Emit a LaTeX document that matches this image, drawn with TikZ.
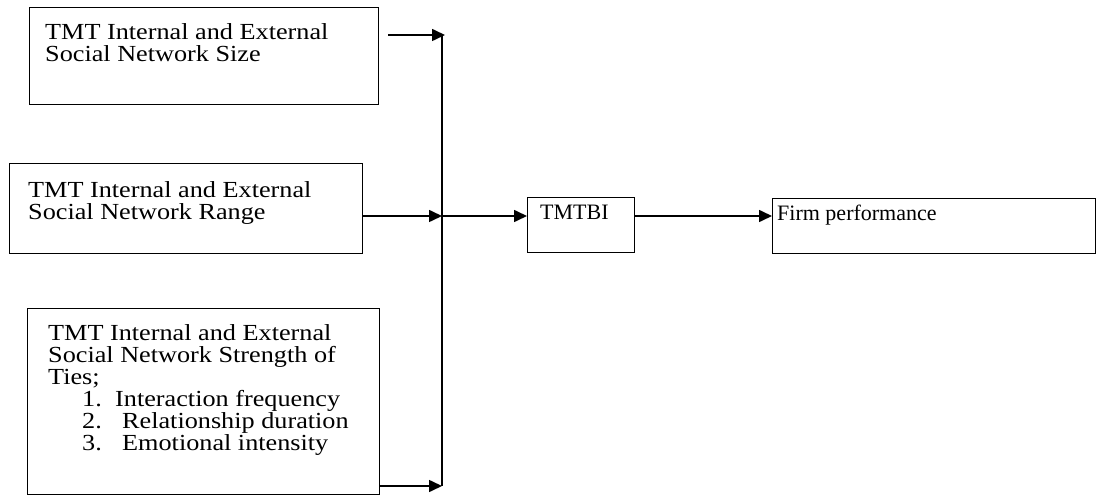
\documentclass[tikz,border=0pt]{standalone}
\usepackage{fontspec}
\setmainfont{Liberation Serif}
\newfontfamily\widefont{Liberation Serif}[FakeStretch=1.14]
\usetikzlibrary{arrows.meta}
\tikzset{
	box/.style={draw,line width=1.2pt,inner sep=0pt,anchor=north west},
	txt/.style={inner sep=0pt,anchor=north west,align=left,font=\fontsize{22}{22}\selectfont},
	widetxt/.style={txt,font=\widefont\fontsize{23}{22}\selectfont},
	arr/.style={line width=1.6pt,-{Triangle[length=13pt,width=12pt]}}
}
\begin{document}
\begin{tikzpicture}[x=1pt,y=-1pt]
	\useasboundingbox (0,0) rectangle (1098,497);
	\node[box,minimum width=349pt,minimum height=97pt] (size) at (29,7) {};
	\node[box,minimum width=353pt,minimum height=90pt] (range) at (9,163) {};
	\node[box,minimum width=352pt,minimum height=186pt] (ties) at (27,308) {};
	\node[box,minimum width=107pt,minimum height=55pt] (tmtbi) at (527,197) {};
	\node[box,minimum width=323pt,minimum height=55pt] (perf) at (772,198) {};
	\node[widetxt] (sizetxt) at (45,23) {TMT Internal and External\\Social Network Size};
	\node[widetxt] (rangetxt) at (28,181) {TMT Internal and External\\Social Network Range};
	\node[widetxt] (tiestxt) at (48,324) {TMT Internal and External\\Social Network Strength of\\Ties;\\
		\hspace*{34pt}\makebox[33pt][l]{1.}Interaction frequency\\
		\hspace*{34pt}\makebox[40pt][l]{2.}Relationship duration\\
		\hspace*{34pt}\makebox[40pt][l]{3.}Emotional intensity};
	\node[txt] (tmtbitxt) at (540,205) {TMTBI};
	\node[txt] (perftxt) at (777,205) {Firm performance};
	\coordinate (bustop) at (442,35);
	\coordinate (busmid) at (442,216);
	\coordinate (busbot) at (442,486);
	\draw[line width=1.6pt] (bustop) -- (busbot);
	\draw[arr,shorten <=9pt] (size.east |- bustop) -- ([xshift=3pt]bustop);
	\foreach \b/\c in {range/busmid,ties/busbot}
	\draw[arr] (\b.east |- \c) -- (\c);
	\draw[arr] (busmid) -- (tmtbi.west |- busmid);
	\draw[arr] (tmtbi.east |- busmid) -- (perf.west |- busmid);
\end{tikzpicture}
\end{document}
